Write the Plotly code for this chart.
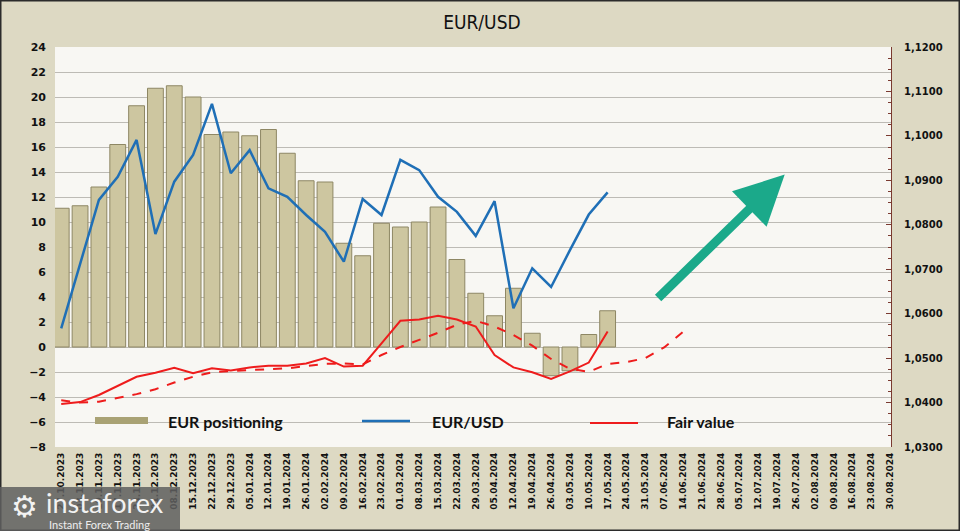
import plotly.graph_objects as go

# ---------------- data ----------------
dates = ["27.10.2023", "03.11.2023", "10.11.2023", "17.11.2023", "24.11.2023", "01.12.2023",
         "08.12.2023", "15.12.2023", "22.12.2023", "29.12.2023", "05.01.2024", "12.01.2024",
         "19.01.2024", "26.01.2024", "02.02.2024", "09.02.2024", "16.02.2024", "23.02.2024",
         "01.03.2024", "08.03.2024", "15.03.2024", "22.03.2024", "29.03.2024", "05.04.2024",
         "12.04.2024", "19.04.2024", "26.04.2024", "03.05.2024", "10.05.2024", "17.05.2024",
         "24.05.2024", "31.05.2024", "07.06.2024", "14.06.2024", "21.06.2024", "28.06.2024",
         "05.07.2024", "12.07.2024", "19.07.2024", "26.07.2024", "02.08.2024", "09.08.2024",
         "16.08.2024", "23.08.2024", "30.08.2024"]

eur_positioning = [11.1, 11.3, 12.8, 16.2, 19.3, 20.7, 20.9, 20.0, 17.0, 17.2, 16.9, 17.4,
                   15.5, 13.3, 13.2, 8.3, 7.3, 9.9, 9.6, 10.0, 11.2, 7.0, 4.3, 2.5,
                   4.7, 1.1, -2.3, -1.9, 1.0, 2.9]

eurusd = [1.0567, 1.0712, 1.0856, 1.0908, 1.0991, 1.0779, 1.0897, 1.0957, 1.1072, 1.0916,
          1.0968, 1.0882, 1.0863, 1.0822, 1.0784, 1.0717, 1.0858, 1.0822, 1.0946, 1.0923,
          1.0863, 1.0829, 1.0775, 1.0853, 1.0612, 1.0702, 1.0660, 1.0743, 1.0823, 1.0873]

fair_value = [1.0397, 1.0401, 1.0417, 1.0438, 1.0458, 1.0467, 1.0478, 1.0466, 1.0477, 1.0472,
              1.0479, 1.0483, 1.0483, 1.0488, 1.0500, 1.0481, 1.0483, 1.0533, 1.0584, 1.0587,
              1.0595, 1.0587, 1.0571, 1.0507, 1.0479, 1.0468, 1.0453, 1.0470, 1.0490, 1.0560]

fair_trend = [1.0405, 1.0400, 1.0402, 1.0410, 1.0419, 1.0430, 1.0445, 1.0458, 1.0468, 1.0471,
              1.0473, 1.0475, 1.0477, 1.0482, 1.0487, 1.0488, 1.0486, 1.0507, 1.0525, 1.0541,
              1.0557, 1.0575, 1.0584, 1.0571, 1.0552, 1.0528, 1.0498, 1.0476, 1.0469, 1.0487,
              1.0491, 1.0500, 1.0524, 1.0559]

left_ticks = list(range(-8, 25, 2))
right_ticks = [1.03, 1.04, 1.05, 1.06, 1.07, 1.08, 1.09, 1.10, 1.11, 1.12]

# ---------------- figure ----------------
idx = list(range(len(dates)))
PAPER = "#DDD9C3"
PLOT = "#F8F7F3"
BLUE = "#1F6FB6"
RED = "#EE1C1C"
BAR = "#CDC6A0"

fig = go.Figure()

fig.add_trace(go.Bar(
    x=idx[:len(eur_positioning)], y=eur_positioning, name="EUR positioning",
    width=0.84, marker=dict(color=BAR, line=dict(color="#8E8764", width=1)),
    showlegend=False))

fig.add_trace(go.Scatter(
    x=idx[:len(fair_trend)], y=fair_trend, yaxis="y2", mode="lines", name="trend",
    line=dict(color=RED, width=2, dash="dash"), showlegend=False))

fig.add_trace(go.Scatter(
    x=idx[:len(fair_value)], y=fair_value, yaxis="y2", mode="lines", name="Fair value",
    line=dict(color=RED, width=2), showlegend=False))

fig.add_trace(go.Scatter(
    x=idx[:len(eurusd)], y=eurusd, yaxis="y2", mode="lines", name="EUR/USD",
    line=dict(color=BLUE, width=2.5), showlegend=False))

# plot-area geometry helpers (pixel -> paper)
L, R, T, B = 55, 891, 47, 447
def px(X):
    return (X - L) / (R - L)
def py(Y):
    return (B - Y) / (B - T)

shapes = [
    # outer frame
    dict(type="rect", xref="paper", yref="paper", x0=px(0.5), x1=px(959.5), y0=py(530.5), y1=py(0.5),
         line=dict(color="#2b2b2b", width=2), layer="above"),
    # legend swatches
    dict(type="rect", xref="paper", yref="paper", x0=px(95), x1=px(148), y0=py(424), y1=py(417),
         fillcolor="#A9A274", line=dict(width=0), layer="above"),
    dict(type="line", xref="paper", yref="paper", x0=px(362), x1=px(410), y0=py(421), y1=py(421),
         line=dict(color=BLUE, width=2.5), layer="above"),
    dict(type="line", xref="paper", yref="paper", x0=px(590), x1=px(638), y0=py(423), y1=py(423),
         line=dict(color=RED, width=2), layer="above"),
    # watermark box
    dict(type="rect", xref="paper", yref="paper", x0=px(0), x1=px(180), y0=py(531), y1=py(487),
         fillcolor="rgba(95,95,95,0.85)", line=dict(width=0), layer="above"),
]

LEG_FONT = dict(family="Lato, DejaVu Sans", size=16, color="#111111", weight="bold")
annotations = [
    dict(text="EUR positioning", xref="paper", yref="paper", x=px(166), y=py(421),
         xanchor="left", yanchor="middle", showarrow=False, font=LEG_FONT),
    dict(text="EUR/USD", xref="paper", yref="paper", x=px(430), y=py(421),
         xanchor="left", yanchor="middle", showarrow=False, font=LEG_FONT),
    dict(text="Fair value", xref="paper", yref="paper", x=px(665), y=py(421),
         xanchor="left", yanchor="middle", showarrow=False, font=LEG_FONT),
    # big green arrow
    dict(x=38.4, y=13.8, ax=31.6, ay=3.8, xref="x", yref="y", axref="x", ayref="y",
         text="", showarrow=True, arrowhead=2, arrowsize=1.1, arrowwidth=9,
         arrowcolor="#1BA98A", standoff=0),
    # watermark
    dict(text="\u2699", xref="paper", yref="paper", x=px(24), y=py(506),
         xanchor="center", yanchor="middle", showarrow=False,
         font=dict(family="DejaVu Sans", size=30, color="#F2F2F2")),
    dict(text="instaforex", xref="paper", yref="paper", x=px(44), y=py(502),
         xanchor="left", yanchor="middle", showarrow=False,
         font=dict(family="Lato, DejaVu Sans", size=27, color="#F2F2F2")),
    dict(text="Instant Forex Trading", xref="paper", yref="paper", x=px(47), y=py(524),
         xanchor="left", yanchor="middle", showarrow=False,
         font=dict(family="Lato, DejaVu Sans", size=11, color="#EDEDED")),
]

fig.update_layout(
    width=960, height=531,
    margin=dict(l=55, r=69, t=47, b=84, autoexpand=False),
    paper_bgcolor=PAPER, plot_bgcolor=PLOT,
    separators=", ",
    bargap=0.16,
    title=dict(text="EUR/USD", x=0.502, xref="container", xanchor="center", y=1 - 22 / 531, yanchor="middle",
               font=dict(family="Liberation Sans Narrow, DejaVu Sans Condensed, DejaVu Sans",
                         size=19, color="#111111")),
    xaxis=dict(range=[-0.33, 44.04], tickmode="array", tickvals=idx, ticktext=dates,
               tickangle=-90, showgrid=False, zeroline=False, showline=False, ticks="",
               ticklabelstandoff=3, automargin=False,
               tickfont=dict(family="DejaVu Sans", size=9, color="#111111", weight="bold")),
    yaxis=dict(range=[-8, 24], tickmode="array", tickvals=left_ticks,
               showgrid=True, gridcolor="#BDBBB5", gridwidth=1, zeroline=False,
               showline=False, ticks="", ticklabelstandoff=8, automargin=False,
               tickfont=dict(family="DejaVu Sans", size=11, color="#111111", weight="bold")),
    yaxis2=dict(range=[1.03, 1.12], overlaying="y", side="right", tickmode="array",
                tickvals=right_ticks, tickformat=".4f", showgrid=False, zeroline=False,
                showline=True, linecolor="#7A3A30", linewidth=1, automargin=False,
                ticks="inside", ticklen=5, tickcolor="#7A3A30",
                minor=dict(dtick=0.0025, ticks="inside", ticklen=3, tickcolor="#7A3A30"),
                ticklabelstandoff=10,
                tickfont=dict(family="DejaVu Sans", size=10, color="#111111", weight="bold")),
    shapes=shapes,
    annotations=annotations,
)

fig.write_html("out.html", config={"displayModeBar": False},
               post_script="document.body.style.margin='0px';document.body.style.overflow='hidden';")
